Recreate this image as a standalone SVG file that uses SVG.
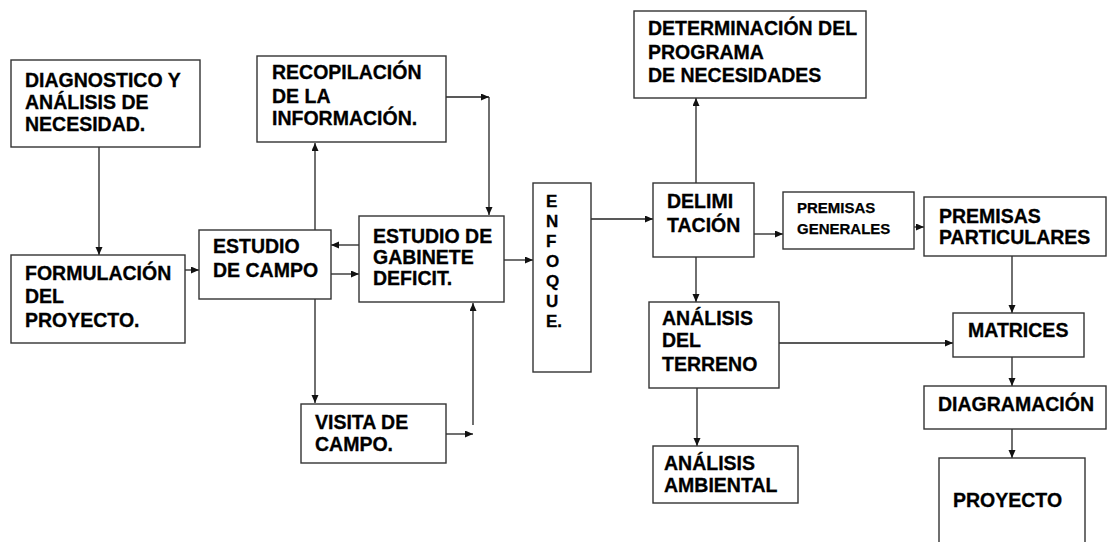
<svg xmlns="http://www.w3.org/2000/svg" width="1107" height="542" viewBox="0 0 1107 542">
<style>
.box{fill:#fff;stroke:#333;stroke-width:1.4}
.t{font-family:"Liberation Sans",Arial,sans-serif;font-weight:bold;font-size:19.5px;fill:#000;stroke:#000;stroke-width:0.3}
.s{font-size:15px;stroke-width:0.25}
.v{font-size:17px}
.c{fill:none;stroke:#222;stroke-width:1.3}
</style>
<defs>
<marker id="ah" markerWidth="9" markerHeight="8" refX="8" refY="3.5" orient="auto" markerUnits="userSpaceOnUse">
<path d="M0,0 L8,3.5 L0,7 z" fill="#111"/>
</marker>
</defs>
<rect width="1107" height="542" fill="#fff"/>
<g id="connectors" class="c" marker-end="url(#ah)">
<path d="M99,147 V255"/>
<path d="M185,270 H199"/>
<path d="M315,230 V143"/>
<path d="M315,299 V403"/>
<path d="M446,97 H489"/>
<path d="M489,97 V215"/>
<path d="M359,245 H331"/>
<path d="M331,274 H359"/>
<path d="M504,260 H533"/>
<path d="M446,434 H473"/>
<path d="M473,425 V303"/>
<path d="M591,219 H653"/>
<path d="M696,183 V98"/>
<path d="M754,234 H783"/>
<path d="M696,257 V302"/>
<path d="M697,388 V446"/>
<path d="M779,343 H953"/>
<path d="M914,227 H924"/>
<path d="M1012,256 V313"/>
<path d="M1012,357 V386"/>
<path d="M1012,429 V458"/>
</g>
<g id="diagnostico"><rect class="box" x="11" y="60" width="189" height="87"/>
<text class="t" x="25" y="87">DIAGNOSTICO Y</text><text class="t" x="25" y="109">ANÁLISIS DE</text><text class="t" x="25" y="131">NECESIDAD.</text></g>
<g id="formulacion"><rect class="box" x="11" y="255" width="174" height="88"/>
<text class="t" x="25" y="280">FORMULACIÓN</text><text class="t" x="25" y="303">DEL</text><text class="t" x="25" y="327">PROYECTO.</text></g>
<g id="estudio-campo"><rect class="box" x="199" y="230" width="132" height="69"/>
<text class="t" x="213" y="253">ESTUDIO</text><text class="t" x="213" y="277">DE CAMPO</text></g>
<g id="recopilacion"><rect class="box" x="257" y="56" width="189" height="86"/>
<text class="t" x="272" y="79">RECOPILACIÓN</text><text class="t" x="272" y="103">DE LA</text><text class="t" x="272" y="125">INFORMACIÓN.</text></g>
<g id="gabinete"><rect class="box" x="359" y="216" width="145" height="86"/>
<text class="t" x="373" y="243">ESTUDIO DE</text><text class="t" x="373" y="264">GABINETE</text><text class="t" x="373" y="285">DEFICIT.</text></g>
<g id="visita"><rect class="box" x="301" y="404" width="145" height="59"/>
<text class="t" x="315" y="429">VISITA DE</text><text class="t" x="315" y="451">CAMPO.</text></g>
<g id="enfoque"><rect class="box" x="533" y="183" width="58" height="189"/>
<text class="t v" x="546" y="207">E</text><text class="t v" x="546" y="227">N</text><text class="t v" x="546" y="247">F</text><text class="t v" x="546" y="267">O</text><text class="t v" x="546" y="287">Q</text><text class="t v" x="546" y="307">U</text><text class="t v" x="546" y="327">E.</text></g>
<g id="determinacion"><rect class="box" x="634" y="11" width="232" height="87"/>
<text class="t" x="648" y="35">DETERMINACIÓN DEL</text><text class="t" x="648" y="59">PROGRAMA</text><text class="t" x="648" y="82">DE NECESIDADES</text></g>
<g id="delimitacion"><rect class="box" x="653" y="183" width="101" height="74"/>
<text class="t" x="667" y="208">DELIMI</text><text class="t" x="667" y="232">TACIÓN</text></g>
<g id="premisas-generales"><rect class="box" x="783" y="192" width="131" height="57"/>
<text class="t s" x="797" y="213">PREMISAS</text><text class="t s" x="797" y="234">GENERALES</text></g>
<g id="premisas-particulares"><rect class="box" x="924" y="197" width="182" height="59"/>
<text class="t" x="939" y="223">PREMISAS</text><text class="t" x="939" y="244">PARTICULARES</text></g>
<g id="analisis-terreno"><rect class="box" x="649" y="302" width="130" height="86"/>
<text class="t" x="662" y="325">ANÁLISIS</text><text class="t" x="662" y="347">DEL</text><text class="t" x="662" y="371">TERRENO</text></g>
<g id="analisis-ambiental"><rect class="box" x="653" y="446" width="145" height="57"/>
<text class="t" x="664" y="470">ANÁLISIS</text><text class="t" x="664" y="492">AMBIENTAL</text></g>
<g id="matrices"><rect class="box" x="953" y="313" width="131" height="44"/>
<text class="t" x="968" y="337">MATRICES</text></g>
<g id="diagramacion"><rect class="box" x="924" y="386" width="182" height="43"/>
<text class="t" x="938" y="411">DIAGRAMACIÓN</text></g>
<g id="proyecto"><rect class="box" x="939" y="458" width="146" height="100"/>
<text class="t" x="953" y="507">PROYECTO</text></g>
</svg>
